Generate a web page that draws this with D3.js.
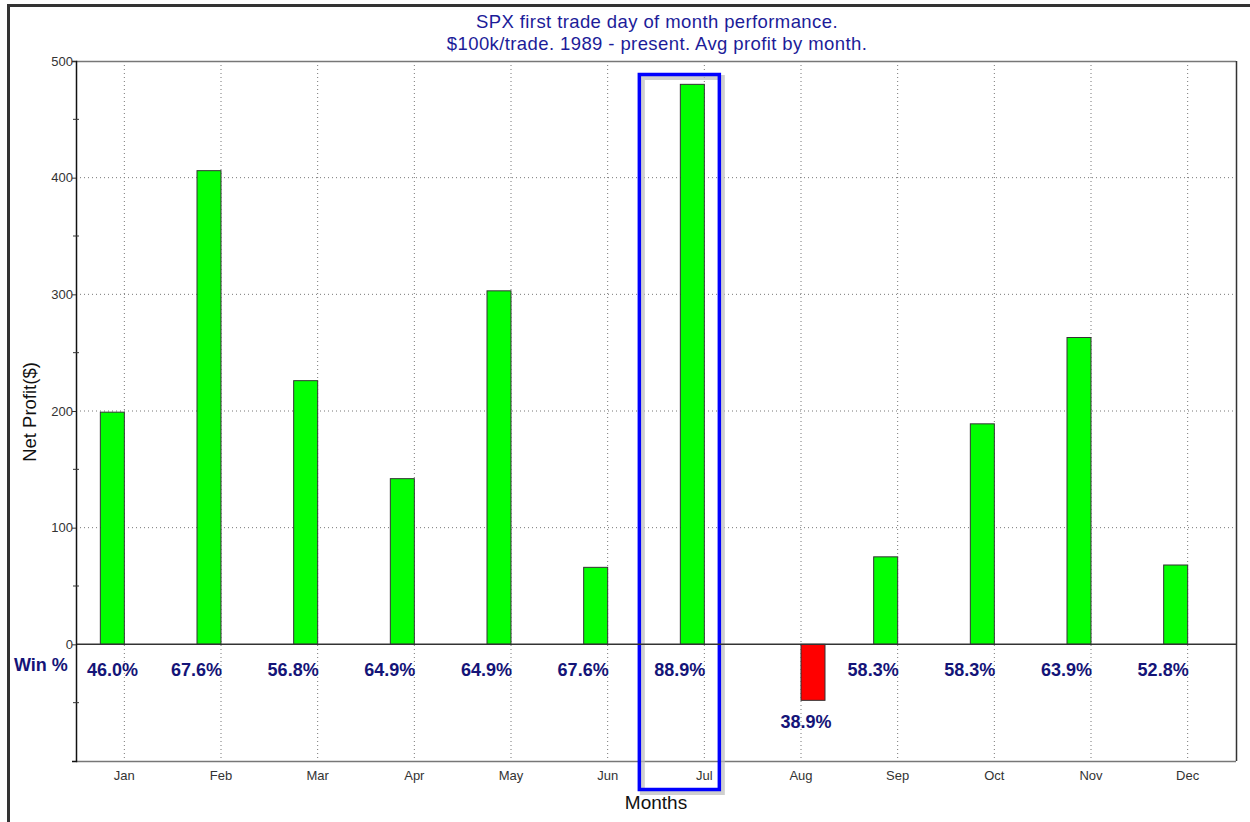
<!DOCTYPE html>
<html>
<head>
<meta charset="utf-8">
<script src="https://cdn.jsdelivr.net/npm/d3@7"></script>
<style>
html,body{margin:0;padding:0;background:#fff;}
svg{display:block;}
</style>
</head>
<body>
<svg id="chart" width="1250" height="822"></svg>
<script>
const months = ["Jan","Feb","Mar","Apr","May","Jun","Jul","Aug","Sep","Oct","Nov","Dec"];
const avgProfit = [199, 406, 226, 142, 303, 66, 480, -48, 75, 189, 263, 68];
const winPct = ["46.0%","67.6%","56.8%","64.9%","64.9%","67.6%","88.9%","38.9%","58.3%","58.3%","63.9%","52.8%"];
const yTicks = [0, 100, 200, 300, 400, 500];
const yMinorTicks = [-50, 50, 150, 250, 350, 450];
const titleLines = ["SPX first trade day of month performance.", "$100k/trade. 1989 - present. Avg profit by month."];
const highlightMonth = "Jul";

const FONT = "Liberation Sans, Arial, sans-serif";
const svg = d3.select("#chart");
const L = 76, R = 1236, T = 61, B = 761;

const x = d3.scaleBand().domain(months).range([L, R]).padding(0);
const y = d3.scaleLinear().domain([-100, 500]).range([B, T]);
const bw = x.bandwidth();
const cx = m => x(m) + bw / 2;
const barW = 24;

// outer frame
svg.append("rect").attr("x", 8.5).attr("y", 5.5).attr("width", 1260).attr("height", 830)
  .attr("fill", "#fff").attr("stroke", "#333").attr("stroke-width", 3);

// title
titleLines.forEach((t, i) => {
  svg.append("text").attr("x", 657).attr("y", 28 + i * 22)
    .attr("text-anchor", "middle")
    .attr("font-family", FONT).attr("letter-spacing", 0.4)
    .attr("font-size", 18.5).attr("fill", "#1c1c99").text(t);
});

// grid: vertical dotted
svg.append("g").selectAll("line").data(months).join("line")
  .attr("x1", d => cx(d)).attr("x2", d => cx(d))
  .attr("y1", T).attr("y2", B)
  .attr("stroke", "#777").attr("stroke-width", 1).attr("stroke-dasharray", "1,3");
// grid: horizontal dotted
svg.append("g").selectAll("line").data(yTicks.filter(v => v > 0 && v < 500)).join("line")
  .attr("x1", L).attr("x2", R)
  .attr("y1", d => y(d)).attr("y2", d => y(d))
  .attr("stroke", "#777").attr("stroke-width", 1).attr("stroke-dasharray", "1,3");

// plot frame
svg.append("line").attr("x1", L).attr("x2", R).attr("y1", T + 0.5).attr("y2", T + 0.5).attr("stroke", "#777").attr("stroke-width", 1.5);
svg.append("line").attr("x1", L).attr("x2", R).attr("y1", B + 0.5).attr("y2", B + 0.5).attr("stroke", "#777").attr("stroke-width", 1.5);
svg.append("line").attr("x1", R + 0.5).attr("x2", R + 0.5).attr("y1", T).attr("y2", B).attr("stroke", "#333").attr("stroke-width", 1.5);

// highlight box (shadow + box)
const hx = cx(highlightMonth);
svg.append("rect").attr("x", hx - 62).attr("y", 77.5).attr("width", 80).attr("height", 715)
  .attr("fill", "none").attr("stroke", "#bbb").attr("stroke-width", 5).attr("opacity", 0.7);
svg.append("rect").attr("x", hx - 65).attr("y", 74.5).attr("width", 80).attr("height", 715)
  .attr("fill", "none").attr("stroke", "#0000ff").attr("stroke-width", 3.5);

// bars
const data = months.map((m, i) => ({m, v: avgProfit[i], w: winPct[i]}));
svg.append("g").selectAll("rect").data(data).join("rect")
  .attr("x", d => d.v >= 0 ? cx(d.m) - barW : cx(d.m))
  .attr("y", d => y(Math.max(0, d.v)))
  .attr("width", barW)
  .attr("height", d => Math.abs(y(d.v) - y(0)))
  .attr("fill", d => d.v >= 0 ? "#00ff00" : "#ff0000")
  .attr("stroke", "#333").attr("stroke-width", 1);

// zero line
svg.append("line").attr("x1", L).attr("x2", R).attr("y1", y(0)).attr("y2", y(0)).attr("stroke", "#333").attr("stroke-width", 1.5);

// y axis
const yAxis = d3.axisLeft(y).tickValues(yTicks).tickSize(4).tickFormat(d3.format("d"));
const gy = svg.append("g").attr("transform", `translate(${L},0)`).call(yAxis);
gy.select(".domain").attr("stroke", "#111").attr("stroke-width", 1.5);
gy.selectAll(".tick line").attr("stroke", "#333");
gy.selectAll(".tick text").attr("font-family", FONT).attr("font-size", 13).attr("fill", "#333").attr("x", -3);
svg.append("g").selectAll("line").data(yMinorTicks).join("line")
  .attr("x1", L - 3).attr("x2", L + 3).attr("y1", d => y(d)).attr("y2", d => y(d)).attr("stroke", "#333");

// x axis labels
const xAxis = d3.axisBottom(x).tickSize(0).tickPadding(10);
const gx = svg.append("g").attr("transform", `translate(0,${B})`).call(xAxis);
gx.select(".domain").remove();
gx.selectAll(".tick text").attr("font-family", FONT).attr("font-size", 13).attr("fill", "#333");

// axis titles
svg.append("text").attr("transform", "translate(36,412) rotate(-90)").attr("text-anchor", "middle")
  .attr("font-family", FONT).attr("font-size", 18.5).attr("fill", "#111").text("Net Profit($)");
svg.append("text").attr("x", 656).attr("y", 809).attr("text-anchor", "middle")
  .attr("font-family", FONT).attr("font-size", 19).attr("fill", "#111").text("Months");

// win% labels
svg.append("text").attr("x", 14).attr("y", 671)
  .attr("font-family", FONT).attr("font-weight", "bold").attr("font-size", 18)
  .attr("fill", "#141478").text("Win %");
const labels = svg.append("g").selectAll("text").data(data).join("text")
  .attr("y", d => d.v >= 0 ? 676 : 728)
  .attr("text-anchor", "start")
  .attr("font-family", FONT).attr("font-weight", "bold").attr("font-size", 18)
  .attr("fill", "#141478").text(d => d.w);
labels.each(function(d) {
  const w = this.getComputedTextLength();
  let sx = d.v >= 0 ? cx(d.m) + 1 - w : cx(d.m) + 5 - w / 2;
  sx = Math.max(sx, L + 11);
  d3.select(this).attr("x", sx);
});
</script>
</body>
</html>
